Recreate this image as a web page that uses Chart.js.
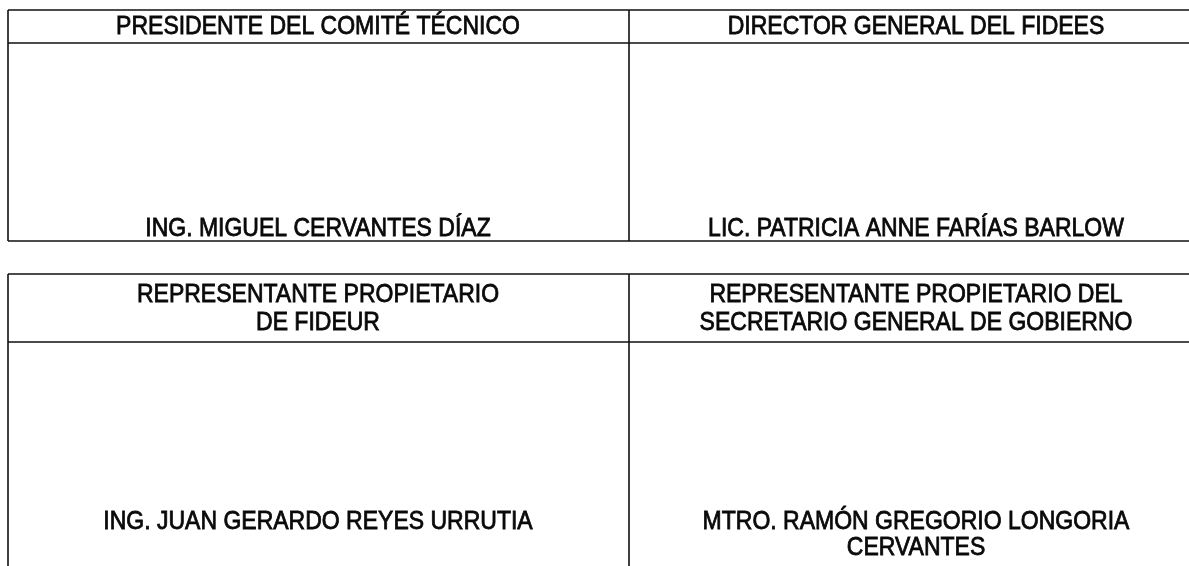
<!DOCTYPE html>
<html>
<head>
<meta charset="utf-8">
<script src="https://cdn.jsdelivr.net/npm/chart.js@4.4.1/dist/chart.umd.min.js"></script>
<style>
  html, body { margin: 0; padding: 0; background: #fff; }
  #wrap { width: 1189px; height: 566px; }
</style>
</head>
<body>
<div id="wrap"><canvas id="sheet"></canvas></div>
<script>
// --------------- Data ---------------
// header of each signature box (left/right, top table then bottom table)
const titles = [
  ["PRESIDENTE DEL COMITÉ TÉCNICO"],
  ["DIRECTOR GENERAL DEL FIDEES"],
  ["REPRESENTANTE PROPIETARIO", "DE FIDEUR"],
  ["REPRESENTANTE PROPIETARIO DEL", "SECRETARIO GENERAL DE GOBIERNO"]
];
// name printed under each signature
const names = [
  ["ING. MIGUEL CERVANTES DÍAZ"],
  ["LIC. PATRICIA ANNE FARÍAS BARLOW"],
  ["ING. JUAN GERARDO REYES URRUTIA"],
  ["MTRO. RAMÓN GREGORIO LONGORIA", "CERVANTES"]
];

// --------------- Layout (page units = pixels of the scan) ---------------
const colEdges = [8, 629];          // vertical rules
const colCenters = [318, 916];      // text centres per column (right box runs past the page edge)
const tables = [
  { top: 10, head: 43, bottom: 241, nameY: 229 },
  { top: 274, head: 342, bottom: 600, nameY: 522 }
];
const lineGap = 28;
const font = '25px "Liberation Sans", Arial, sans-serif';
const squeeze = 0.92;               // scan typeface is a narrow one

// --------------- Plugin that draws the form ---------------
const formPlugin = {
  id: 'form',
  afterDraw(chart) {
    const { ctx, scales: { x, y } } = chart;
    const px = v => x.getPixelForValue(v);
    const py = v => y.getPixelForValue(v);
    ctx.save();
    ctx.strokeStyle = '#111';
    ctx.lineWidth = 1.6;

    tables.forEach(t => {
      ctx.beginPath();
      [t.top, t.head, t.bottom].forEach(r => {
        ctx.moveTo(px(colEdges[0]), py(r));
        ctx.lineTo(px(1189), py(r));
      });
      colEdges.forEach(c => {
        ctx.moveTo(px(c), py(t.top));
        ctx.lineTo(px(c), py(t.bottom));
      });
      ctx.stroke();
    });

    ctx.fillStyle = '#0a0a0a';
    ctx.strokeStyle = '#0a0a0a';
    ctx.lineWidth = 0.8;
    ctx.font = font;
    ctx.textAlign = 'center';
    ctx.textBaseline = 'middle';
    const write = (s, cx, cy) => {
      ctx.save();
      ctx.translate(px(cx), py(cy));
      ctx.scale(squeeze, 1);
      ctx.fillText(s, 0, 0);
      ctx.strokeText(s, 0, 0);   // thicken strokes like the photocopy
      ctx.restore();
    };
    tables.forEach((t, ti) => {
      colCenters.forEach((cx, ci) => {
        const k = ti * 2 + ci;
        const head = titles[k];
        const midHead = (t.top + t.head) / 2 + 1;
        head.forEach((s, i) => {
          write(s, cx, midHead + (i - (head.length - 1) / 2) * lineGap);
        });
        names[k].forEach((s, i) => {
          write(s, cx, t.nameY + i * (lineGap - 2));
        });
      });
    });
    ctx.restore();
  }
};

// --------------- Chart ---------------
new Chart(document.getElementById('sheet').getContext('2d'), {
  type: 'scatter',
  data: { datasets: [{ data: [] }] },
  options: {
    responsive: true,
    maintainAspectRatio: false,
    animation: false,
    layout: { padding: 0 },
    plugins: { legend: { display: false }, tooltip: { enabled: false } },
    scales: {
      x: { type: 'linear', min: 0, max: 1189, display: false },
      y: { type: 'linear', min: 0, max: 566, reverse: true, display: false }
    }
  },
  plugins: [formPlugin]
});
</script>
</body>
</html>
